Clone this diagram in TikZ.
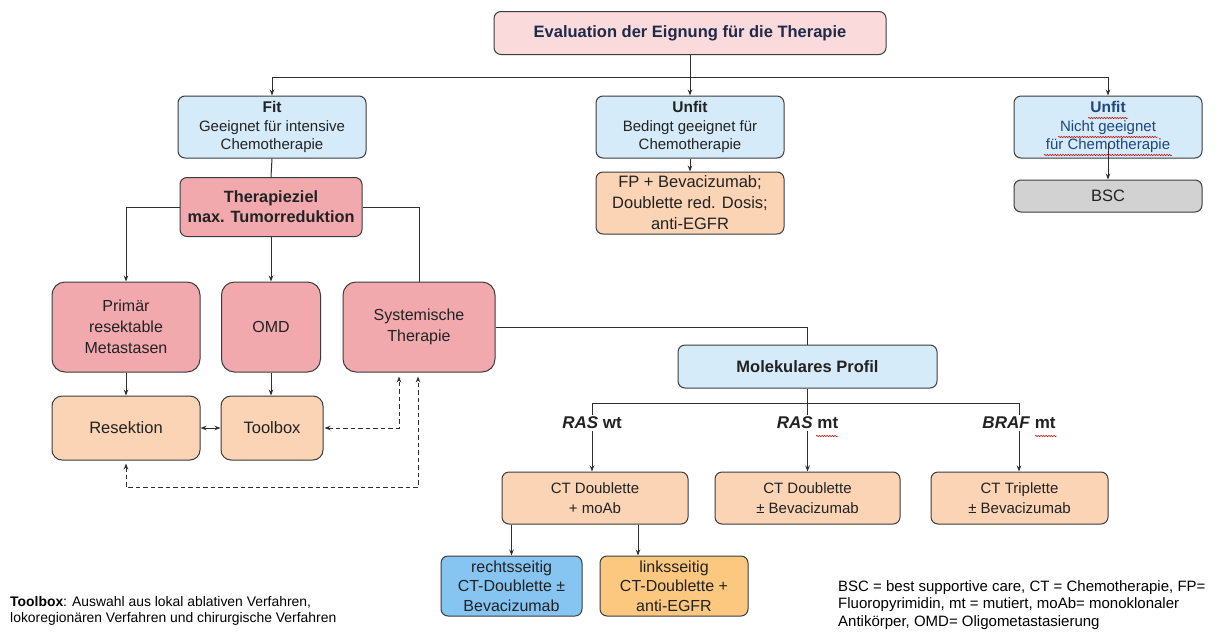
\documentclass[tikz,border=0pt]{standalone}
\usepackage{fontspec}
\setmainfont{Liberation Sans}
\usetikzlibrary{arrows.meta,decorations.pathmorphing}
\definecolor{toppink}{HTML}{FADADB}
\definecolor{lblue}{HTML}{D5EBFA}
\definecolor{rpink}{HTML}{F1A9AE}
\definecolor{peach}{HTML}{FBD4B5}
\definecolor{bscgray}{HTML}{D2D2D2}
\definecolor{midblue}{HTML}{86C4F2}
\definecolor{orng}{HTML}{FCC87F}
\definecolor{bordc}{HTML}{3C3C3C}
\definecolor{navy}{HTML}{1E2A48}
\definecolor{txtc}{HTML}{222222}
\definecolor{unfitblue}{HTML}{21457E}
\tikzset{
  box/.style={draw=bordc, line width=1pt, rounded corners=7pt, align=center, inner sep=0pt, text=txtc,
    font=\fontsize{15}{18.5}\selectfont},
  bigbox/.style={box, rounded corners=13pt, fill=rpink, font=\fontsize{16}{21}\selectfont},
  conn/.style={line width=1pt, draw=black!82},
  arr/.style={conn, -{Stealth[length=6pt,width=4.5pt]}},
  darr/.style={conn, {Stealth[length=6pt,width=4.5pt]}-{Stealth[length=6pt,width=4.5pt]}},
  dashline/.style={conn, dash pattern=on 4.5pt off 3pt, {Stealth[length=6pt,width=4.5pt]}-{Stealth[length=6pt,width=4.5pt]}},
  lbl/.style={inner sep=2pt, font=\fontsize{17}{19}\selectfont\bfseries, text=txtc},
  squig/.style={draw=red!80!black, line width=0.5pt, decorate, decoration={snake, amplitude=0.7pt, segment length=2.6pt}},
  foot/.style={inner sep=0pt, align=left, text=black, anchor=north west}
}
\begin{document}
\begin{tikzpicture}[x=1pt,y=-1pt]
\useasboundingbox (0,0) rectangle (1222,640);
\fill[white] (0,0) rectangle (1222,640);

% top
\node[box, fill=toppink, minimum width=392pt, minimum height=43pt, text=navy,
  font=\fontsize{16.5}{19}\selectfont\bfseries] (eval) at (690,33) {Evaluation der Eignung für die Therapie};

\node[box, fill=lblue, minimum width=188pt, minimum height=62pt] (fit) at (272,127)
  {{\fontsize{15.5}{18.5}\selectfont\bfseries Fit}\\Geeignet für intensive\\Chemotherapie};
\node[box, fill=lblue, minimum width=188pt, minimum height=62pt] (unfitA) at (690,127)
  {{\fontsize{15.5}{18.5}\selectfont\bfseries Unfit}\\Bedingt geeignet für\\Chemotherapie};
\node[box, fill=lblue, minimum width=188pt, minimum height=62pt, text=unfitblue] (unfitB) at (1108,127)
  {{\fontsize{15.5}{18.5}\selectfont\bfseries Unfit}\\Nicht geeignet\\für Chemotherapie};

\node[box, fill=peach, minimum width=188pt, minimum height=62pt, font=\fontsize{16.5}{21}\selectfont] (fp) at (690,203)
  {FP + Bevacizumab;\\Doublette red. Dosis;\\anti-EGFR};
\node[box, fill=bscgray, minimum width=188pt, minimum height=32pt, font=\fontsize{16.5}{19}\selectfont] (bsc) at (1108,196) {BSC};

\node[box, fill=rpink, minimum width=182pt, minimum height=59pt, font=\fontsize{16.3}{20}\selectfont\bfseries] (ziel) at (271,207)
  {Therapieziel\\max. Tumorreduktion};

\node[bigbox, minimum width=148pt, minimum height=90pt] (prim) at (126,327) {Primär\\resektable\\Metastasen};
\node[bigbox, minimum width=99pt, minimum height=90pt] (omd) at (271,327) {OMD};
\node[bigbox, minimum width=152pt, minimum height=90pt] (sys) at (419,327) {Systemische\\Therapie};

\node[box, fill=peach, rounded corners=10pt, minimum width=148pt, minimum height=64pt, font=\fontsize{16.5}{20}\selectfont] (res) at (126,428) {Resektion};
\node[box, fill=peach, rounded corners=10pt, minimum width=102pt, minimum height=64pt, font=\fontsize{16.5}{20}\selectfont] (tool) at (272,428) {Toolbox};

\node[box, fill=lblue, minimum width=259pt, minimum height=43pt, font=\fontsize{16.5}{19}\selectfont\bfseries] (mol) at (807.5,366.5) {Molekulares Profil};

\node[lbl] (raswt) at (592,423) {\textit{RAS} wt};
\node[lbl] (rasmt) at (807.5,423) {\textit{RAS} mt};
\node[lbl] (braf) at (1019,423) {\textit{BRAF} mt};

\node[box, fill=peach, minimum width=186pt, minimum height=52pt, font=\fontsize{15}{20}\selectfont] (ct1) at (595,498) {CT Doublette\\+ moAb};
\node[box, fill=peach, minimum width=185pt, minimum height=52pt, font=\fontsize{15}{20}\selectfont] (ct2) at (807.5,498) {CT Doublette\\± Bevacizumab};
\node[box, fill=peach, minimum width=177pt, minimum height=52pt, font=\fontsize{15}{20}\selectfont] (ct3) at (1019.5,498) {CT Triplette\\± Bevacizumab};

\node[box, fill=midblue, minimum width=141pt, minimum height=60pt, font=\fontsize{16}{19.5}\selectfont] (rechts) at (511.5,586) {rechtsseitig\\CT-Doublette ±\\Bevacizumab};
\node[box, fill=orng, minimum width=148pt, minimum height=60pt, font=\fontsize{16}{19.5}\selectfont] (links) at (674,586) {linksseitig\\CT-Doublette +\\anti-EGFR};

% footnotes
\node[foot, font=\fontsize{13.9}{16}\selectfont] (fn1) at (10,596)
  {\textbf{Toolbox}: Auswahl aus lokal ablativen Verfahren,\\lokoregionären Verfahren und chirurgische Verfahren};
\node[foot, font=\fontsize{15}{17.5}\selectfont] (fn2) at (838,580)
  {BSC = best supportive care, CT = Chemotherapie, FP=\\Fluoropyrimidin, mt = mutiert, moAb= monoklonaler\\Antikörper, OMD= Oligometastasierung};

% connectors top
\coordinate (j1) at (690,77);
\draw[conn] (eval.south) -- (j1);
\draw[arr] (j1) -| (fit.north);
\draw[arr] (j1) -- (unfitA.north);
\draw[arr] (j1) -| (unfitB.north);
\draw[arr] (unfitA.south) -- (fp.north);
\draw[arr] ([yshift=-16pt]unfitB.center) -- (bsc.north);
\draw[conn] (fit.south) -- (ziel.north);
\draw[arr] (ziel.west) -| (prim.north);
\draw[arr] (ziel.south) -- (omd.north);
\draw[conn] (ziel.east) -| (sys.north);
\draw[arr] (prim.south) -- (res.north);
\draw[arr] (omd.south) -- (omd.south |- tool.north);
\draw[darr] (res.east) -- (tool.west);
\coordinate (sa) at ([xshift=-20pt,yshift=-4pt]sys.south);
\coordinate (sb) at ([xshift=-1pt,yshift=-4pt]sys.south);
\coordinate (ra) at ([yshift=-3pt]res.south);
\draw[dashline] ([xshift=1pt]tool.east) -| (sa);
\draw[dashline] (ra) -- ++(0,24) -| (sb);

\draw[conn] (sys.east) -| (mol.north);
\coordinate (j3) at (807.5,403);
\draw[conn] (mol.south) -- (j3);
\draw[conn] (j3) -| (raswt.north);
\draw[conn] (j3) -| (braf.north);
\draw[conn] (j3) -- (rasmt.north);
\draw[arr] (raswt.south) -- (raswt.south |- ct1.north);
\draw[arr] (rasmt.south) -- (ct2.north);
\draw[arr] (braf.south) -- (braf.south |- ct3.north);
\draw[arr] (rechts.north |- ct1.south) -- (rechts.north);
\draw[arr] ([xshift=-36pt]links.north |- ct1.south) -- ([xshift=-36pt]links.north);

% spell-check squiggles
\draw[squig] (1088,118) -- (1128,118);
\draw[squig] (1058,137) -- (1158,137);
\draw[squig] (1044,155) -- (1172,155);
\draw[squig] (816,436) -- (838,436);
\draw[squig] (1035,436) -- (1057,436);
\end{tikzpicture}
\end{document}
